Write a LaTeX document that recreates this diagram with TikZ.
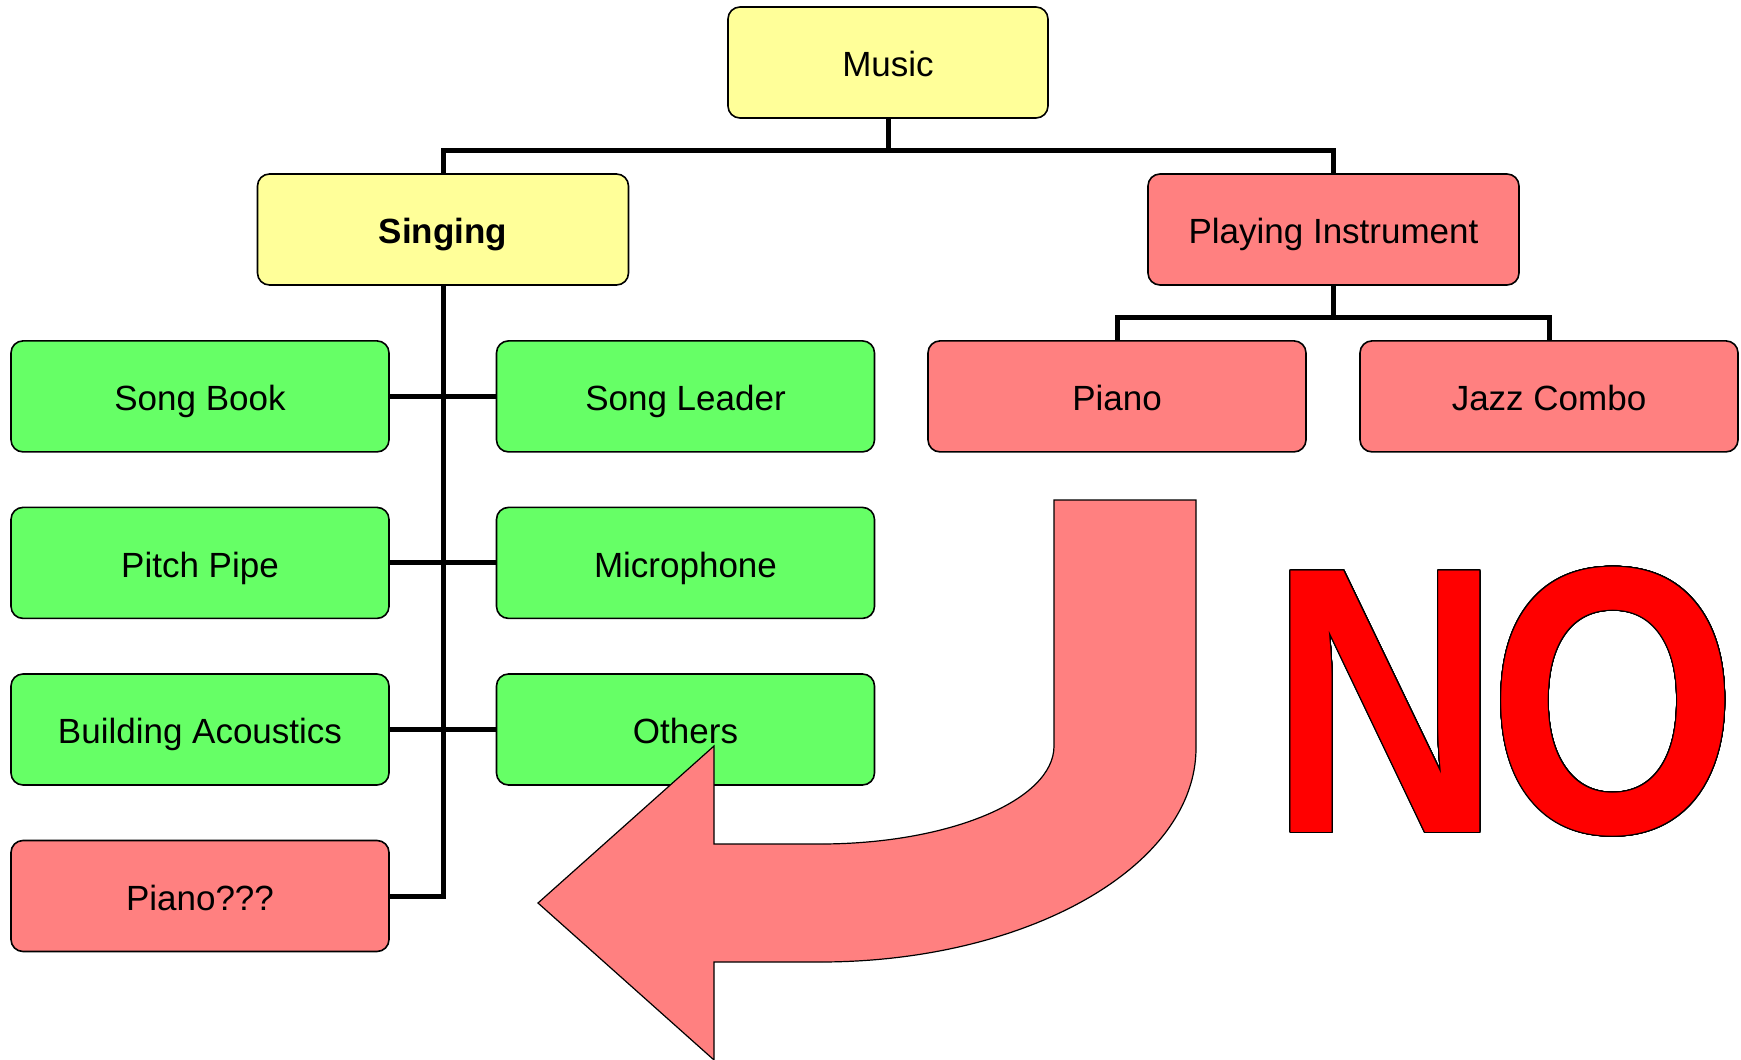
\documentclass[tikz,border=0pt]{standalone}
\usepackage{fontspec}
\setmainfont{Liberation Sans}
\newfontfamily\nofont{Liberation Sans}
\usepackage{graphicx}
\usepackage{contour}
\contourlength{0.6pt}
\contournumber{32}
\definecolor{boxyellow}{RGB}{255,255,153}
\definecolor{boxgreen}{RGB}{102,255,102}
\definecolor{boxred}{RGB}{255,128,128}
\definecolor{nored}{RGB}{255,0,0}
\begin{document}
\begin{tikzpicture}[x=0.5pt,y=-0.5pt,
  box/.style={draw=black, line width=0.8pt, rounded corners=6pt, minimum height=55.5pt,
    inner sep=0pt, text height=14.3pt, text depth=0pt,
    font=\fontsize{17.5}{21}\selectfont, text=black},
  ybox/.style={box, fill=boxyellow},
  gbox/.style={box, fill=boxgreen, minimum width=189pt},
  rbox/.style={box, fill=boxred},
  conn/.style={draw=black, line width=2.5pt},
  bigarrow/.style={fill=boxred, draw=black, line width=0.6pt, line join=miter}]
\useasboundingbox (0,0) rectangle (1741,1060);
% top level
\node[ybox, minimum width=160pt] (music) at (888,62.5) {Music};
\node[ybox, minimum width=185.5pt, font=\fontsize{17.5}{21}\selectfont\bfseries] (singing) at (443,229.5) {Singing};
\node[rbox, minimum width=185.5pt] (pi) at (1333.5,229.5) {Playing Instrument};
% singing children
\node[gbox] (sb) at (200,396.4) {Song Book};
\node[gbox] (sl) at (685.5,396.4) {Song Leader};
\node[gbox] (pp) at (200,562.9) {Pitch Pipe};
\node[gbox] (mic) at (685.5,562.9) {Microphone};
\node[gbox] (ba) at (200,729.5) {Building Acoustics};
\node[gbox] (oth) at (685.5,729.5) {Others};
\node[rbox, minimum width=189pt] (pq) at (200,896) {Piano???};
% instrument children
\node[rbox, minimum width=189pt] (piano) at (1117,396.4) {Piano};
\node[rbox, minimum width=189pt] (jazz) at (1549,396.4) {Jazz Combo};
% connectors
\coordinate (mj) at (888,150);
\coordinate (pj) at (1333.5,317.5);
\draw[conn] (music.south) -- (mj);
\draw[conn] (singing.north) |- (mj) -| (pi.north);
\draw[conn] (singing.south) |- (pq.east);
\draw[conn] (sb.east) -- (sl.west);
\draw[conn] (pp.east) -- (mic.west);
\draw[conn] (ba.east) -- (oth.west);
\draw[conn] (pi.south) -- (pj);
\draw[conn] (piano.north) |- (pj) -| (jazz.north);
% big arrow
\draw[bigarrow] (1054,500) -- (1054,746)
  .. controls (1054,800.1) and (949.2,844) .. (820,844)
  -- (714,844) -- (714,746) -- (538,903) -- (714,1060) -- (714,962) -- (820,962)
  .. controls (1027.7,962) and (1196,866.2) .. (1196,748)
  -- (1196,500) -- cycle;
% NO
\node[anchor=base, inner sep=0pt] (no) at (1504,832.3)
  {\nofont\bfseries\fontsize{190}{200}\selectfont\scalebox{0.845}[1]{\contour{black}{\textcolor{nored}{N\kern-7.7ptO}}}};
\end{tikzpicture}
\end{document}
